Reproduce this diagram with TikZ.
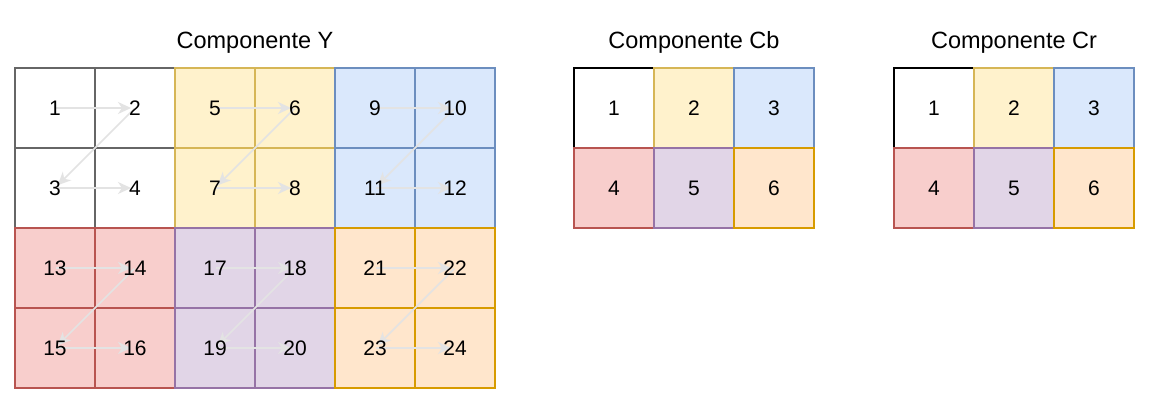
\documentclass[tikz,border=0pt]{standalone}
\usepackage{fontspec}
\setmainfont{Liberation Sans}
\usetikzlibrary{arrows.meta}
\definecolor{grayS}{HTML}{666666}
\definecolor{yelF}{HTML}{FFF2CC}\definecolor{yelS}{HTML}{D6B656}
\definecolor{bluF}{HTML}{DAE8FC}\definecolor{bluS}{HTML}{6C8EBF}
\definecolor{redF}{HTML}{F8CECC}\definecolor{redS}{HTML}{B85450}
\definecolor{purF}{HTML}{E1D5E7}\definecolor{purS}{HTML}{9673A6}
\definecolor{oraF}{HTML}{FFE6CC}\definecolor{oraS}{HTML}{D79B00}
\definecolor{arrowC}{HTML}{E3E3E3}
\tikzset{
  cell/.style={shape=rectangle, minimum width=80pt, minimum height=80pt, inner sep=0pt, outer sep=0pt, line width=1.5pt},
  wcell/.style={cell, draw=grayS, fill=white},
  kcell/.style={cell, draw=black, fill=white},
  ycell/.style={cell, draw=yelS, fill=yelF},
  bcell/.style={cell, draw=bluS, fill=bluF},
  rcell/.style={cell, draw=redS, fill=redF},
  pcell/.style={cell, draw=purS, fill=purF},
  ocell/.style={cell, draw=oraS, fill=oraF},
  num/.style={font=\fontsize{21}{25}\selectfont, inner sep=0pt},
  ttl/.style={font=\fontsize{23.5}{28}\selectfont, anchor=base, inner sep=0pt},
  zz/.style={draw=arrowC, line width=1.6pt, -{Stealth[length=13pt,width=12pt,inset=4pt]}, shorten >=4pt, shorten <=1pt}
}
\begin{document}
\begin{tikzpicture}[x=1pt,y=-1pt]
\useasboundingbox (0,0) rectangle (1150,400);
% titles
\node[ttl] (tY) at (255,48) {Componente Y};
\node[ttl] (tCb) at (694,48) {Componente Cb};
\node[ttl] (tCr) at (1014,48) {Componente Cr};
% Y cells
\foreach \bx/\by/\st/\n in {0/0/wcell/1, 2/0/ycell/5, 4/0/bcell/9, 0/2/rcell/13, 2/2/pcell/17, 4/2/ocell/21} {
  \pgfmathtruncatemacro{\na}{\n+1}
  \pgfmathtruncatemacro{\nb}{\n+2}
  \pgfmathtruncatemacro{\nc}{\n+3}
  \node[\st] (y\n)  at ({55+80*\bx},{108+80*\by}) {};
  \node[\st] (y\na) at ({135+80*\bx},{108+80*\by}) {};
  \node[\st] (y\nb) at ({55+80*\bx},{188+80*\by}) {};
  \node[\st] (y\nc) at ({135+80*\bx},{188+80*\by}) {};
}
% zigzag arrows
\foreach \n in {1,5,9,13,17,21} {
  \pgfmathtruncatemacro{\na}{\n+1}
  \pgfmathtruncatemacro{\nb}{\n+2}
  \pgfmathtruncatemacro{\nc}{\n+3}
  \draw[zz] (y\n.center) -- (y\na.center);
  \draw[zz] (y\na.center) -- (y\nb.center);
  \draw[zz] (y\nb.center) -- (y\nc.center);
}
% Y numbers
\foreach \n in {1,...,24} {
  \node[num] (ly\n) at (y\n.center) {\n};
}
% Cb and Cr
\foreach \i/\st in {1/kcell, 2/ycell, 3/bcell, 4/rcell, 5/pcell, 6/ocell} {
  \pgfmathtruncatemacro{\col}{mod(\i-1,3)}
  \pgfmathtruncatemacro{\row}{(\i-1)/3}
  \node[\st] (cb\i) at ({614+80*\col},{108+80*\row}) {};
  \node[num] (lcb\i) at (cb\i.center) {\i};
  \node[\st] (cr\i) at ({934+80*\col},{108+80*\row}) {};
  \node[num] (lcr\i) at (cr\i.center) {\i};
}
\end{tikzpicture}
\end{document}
